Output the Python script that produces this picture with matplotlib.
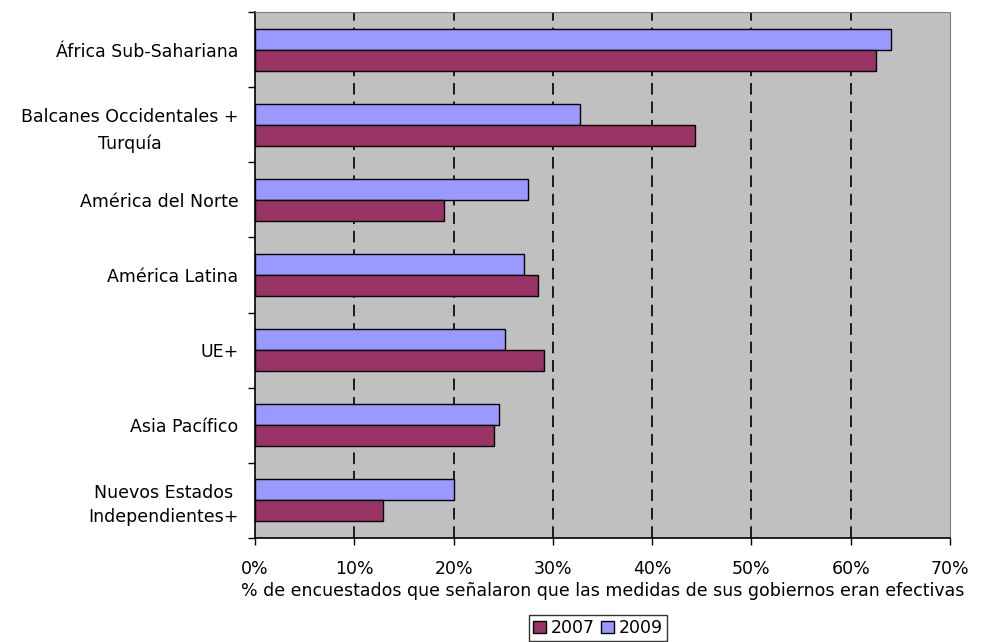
import numpy as np
import matplotlib.pyplot as plt
from matplotlib.patches import Patch

plt.rcParams['font.family'] = ['DejaVu Sans']

regions = ['África Sub-Sahariana', 'Balcanes Occidentales +\nTurquía', 'América del Norte',
           'América Latina', 'UE+', 'Asia Pacífico', 'Nuevos Estados\nIndependientes+']
v2007 = [62.5, 44.3, 19.0, 28.5, 29.1, 24.1, 12.9]
v2009 = [64.1, 32.7, 27.5, 27.1, 25.2, 24.6, 20.0]
xticks = [0, 10, 20, 30, 40, 50, 60, 70]

c2007 = '#993366'
c2009 = '#9999ff'
fs = 12.5

fig = plt.figure(figsize=(9.82, 6.42), dpi=100)
ax = fig.add_axes([255/982, 1 - 538/642, 695/982, 526/642])
ax.set_facecolor('#c0c0c0')

n = len(regions)
y = np.arange(n)[::-1]  # first category on top
h = 0.28
ax.barh(y + h/2, v2009, height=h, color=c2009, edgecolor='black', linewidth=1.0, zorder=3)
ax.barh(y - h/2, v2007, height=h, color=c2007, edgecolor='black', linewidth=1.0, zorder=3)

ax.set_xlim(0, 70)
ax.set_ylim(-0.5, n - 0.5)

# dashed vertical gridlines
for xv in xticks[1:-1]:
    ax.axvline(xv, color='#1a1a1a', lw=1.4, linestyle=(0, (6, 3.5)), zorder=1)

ax.set_xticks(xticks)
ax.set_xticklabels([f'{t}%' for t in xticks], fontsize=fs)
ax.tick_params(axis='x', direction='out', length=5, width=1, pad=11)

ax.set_yticks(y)
ax.set_yticklabels(regions, fontsize=fs, multialignment='center')
ax.tick_params(axis='y', which='major', length=0, pad=12)
ax.set_yticks(np.arange(n + 1) - 0.5, minor=True)
ax.tick_params(axis='y', which='minor', direction='out', length=5, width=1)
for lab in ax.get_yticklabels():
    if lab.get_text().startswith('Balcanes'):
        lab.set_linespacing(1.55)
        lab.set_y(lab.get_position()[1] + 0.04)
    elif lab.get_text().startswith('Nuevos'):
        lab.set_linespacing(1.4)

for s in ['left', 'bottom']:
    ax.spines[s].set_color('black')
    ax.spines[s].set_linewidth(1.2)
for s in ['top', 'right']:
    ax.spines[s].set_color('#808080')
    ax.spines[s].set_linewidth(0.8)

ax.set_xlabel('% de encuestados que señalaron que las medidas de sus gobiernos eran efectivas',
              fontsize=fs, labelpad=3)

handles = [Patch(facecolor=c2007, edgecolor='black', label='2007'),
           Patch(facecolor=c2009, edgecolor='black', label='2009')]
fig.legend(handles=handles, loc='center', bbox_to_anchor=(598/982, 1 - 628/642), ncol=2,
           fontsize=fs, frameon=True, fancybox=False, edgecolor='black',
           handlelength=0.75, handleheight=0.75, handletextpad=0.25, columnspacing=0.4,
           borderpad=0.25, borderaxespad=0)

fig.savefig('out.png', dpi=100)
